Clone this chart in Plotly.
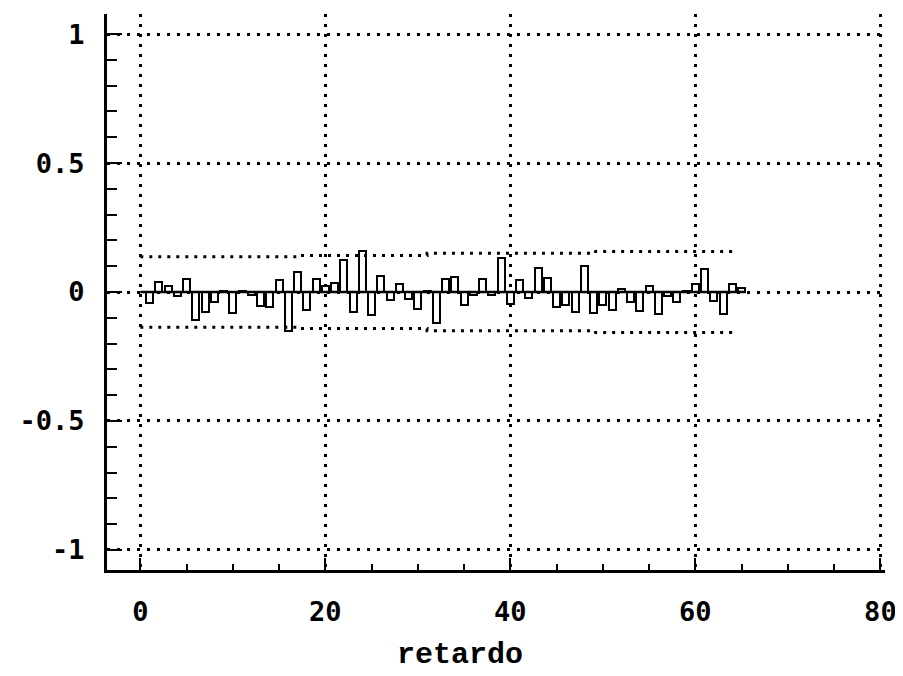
import plotly.graph_objects as go

# ---- data ----
lags = list(range(1, 66))
acf = [-0.043, 0.040, 0.023, -0.015, 0.050, -0.109, -0.076, -0.039, 0.004, -0.080,
       0.002, -0.012, -0.054, -0.060, 0.046, -0.150, 0.076, -0.068, 0.050, 0.025,
       0.036, 0.125, -0.077, 0.160, -0.090, 0.062, -0.031, 0.030, -0.028, -0.065,
       0.002, -0.120, 0.050, 0.060, -0.050, -0.010, 0.052, -0.010, 0.130, -0.048,
       0.045, -0.025, 0.095, 0.055, -0.058, -0.050, -0.077, 0.100, -0.083, -0.050,
       -0.070, 0.012, -0.040, -0.075, 0.025, -0.085, -0.015, -0.040, 0.002, 0.030,
       0.090, -0.035, -0.085, 0.030, 0.015]
band_lags = [0, 17, 31, 49, 64.5]
band_upper = [0.137, 0.142, 0.150, 0.157, 0.160]
band_lower = [-0.137, -0.142, -0.150, -0.157, -0.160]
x_ticks = [0, 20, 40, 60, 80]
y_ticks = [-1, -0.5, 0, 0.5, 1]
y_tick_labels = ["-1", "-0.5", "0", "0.5", "1"]
x_title = "retardo"

fig = go.Figure()

fig.add_trace(go.Bar(
    x=lags, y=acf, width=0.75,
    marker=dict(color="white", line=dict(color="black", width=2)),
    showlegend=False,
))
# solid zero baseline across bars
fig.add_trace(go.Scatter(
    x=[0, lags[-1] + 0.4], y=[0, 0], mode="lines",
    line=dict(color="black", width=2.5), showlegend=False,
))
# confidence bands
for band in (band_upper, band_lower):
    fig.add_trace(go.Scatter(
        x=band_lags, y=band, mode="lines", line_shape="hv",
        line=dict(color="black", width=3, dash="3px,6px"), showlegend=False,
    ))

tickfont = dict(family="DejaVu Sans Mono", size=27, color="black", weight="bold")

fig.update_layout(
    width=895, height=668,
    margin=dict(l=99, r=12, t=6, b=106),
    paper_bgcolor="white", plot_bgcolor="white",
    bargap=0,
    xaxis=dict(
        range=[-3.6, 80.5], tickvals=x_ticks, ticktext=[str(v) for v in x_ticks],
        ticks="inside", ticklen=12, tickwidth=2, tickcolor="black",
        minor=dict(dtick=5, tick0=0, ticks="inside", ticklen=6, tickwidth=2,
                   tickcolor="black", showgrid=False),
        showgrid=True, gridcolor="black", gridwidth=2.5, griddash="3px,7px",
        zeroline=False, showline=True, linecolor="black", linewidth=3,
        tickfont=tickfont, ticklabelstandoff=16,
    ),
    yaxis=dict(
        range=[-1.078, 1.078], tickvals=y_ticks, ticktext=y_tick_labels,
        ticks="inside", ticklen=15, tickwidth=2, tickcolor="black",
        minor=dict(dtick=0.1, tick0=0, ticks="inside", ticklen=10, tickwidth=2,
                   tickcolor="black", showgrid=False),
        showgrid=True, gridcolor="black", gridwidth=2.5, griddash="3px,7px",
        zeroline=False, showline=True, linecolor="black", linewidth=3,
        tickfont=tickfont, ticklabelstandoff=14,
    ),
    annotations=[dict(
        text=x_title, xref="paper", yref="paper", x=0.454, y=-0.152,
        showarrow=False, xanchor="center", yanchor="middle",
        font=dict(family="Liberation Mono", size=30, color="black", weight="bold"),
    )],
)

fig.write_html("out.html")
